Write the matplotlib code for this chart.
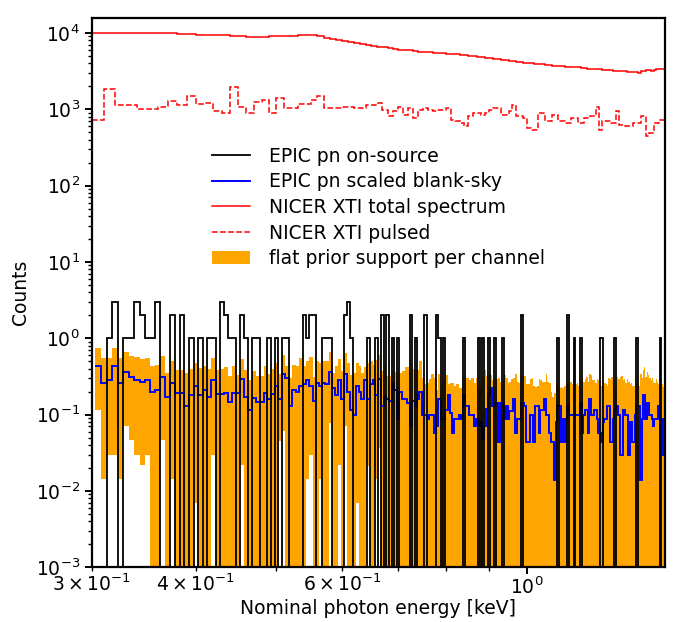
import matplotlib

matplotlib.use("Agg")
import matplotlib.pyplot as plt
import numpy as np

# EPIC pn channel grid (5 eV channels) and NICER XTI grid (10 eV channels), keV
PN_E0, PN_DE = 0.3025, 0.005
XTI_E0, XTI_DE = 0.30, 0.01

# EPIC pn on-source counts per channel
pn_counts = [
    0, 0, 1, 3, 0, 1, 1, 3, 2, 1,
    1, 3, 0, 0, 2, 0, 2, 0, 1, 0,
    1, 0, 1, 1, 0, 3, 2, 1, 1, 0,
    2, 1, 0, 1, 1, 0, 0, 1, 0, 1,
    0, 1, 1, 0, 0, 0, 0, 2, 1, 2,
    2, 0, 0, 1, 1, 1, 0, 0, 0, 0,
    2, 3, 1, 0, 0, 0, 0, 0, 1, 0,
    0, 1, 0, 2, 0, 2, 0, 1, 0, 1,
    0, 0, 0, 0, 2, 0, 1, 0, 0, 0,
    2, 0, 0, 0, 0, 2, 1, 0, 1, 0,
    0, 0, 0, 0, 0, 0, 0, 1, 0, 0,
    0, 0, 0, 0, 1, 0, 1, 0, 0, 1,
    0, 0, 1, 0, 0, 0, 1, 0, 0, 0,
    0, 0, 0, 0, 0, 0, 2, 0, 0, 0,
    0, 0, 0, 0, 0, 0, 0, 0, 0, 0,
    0, 0, 0, 0, 0, 0, 0, 1, 0, 0,
    0, 0, 0, 2, 0, 0, 0, 1, 0, 0,
    0, 1, 0, 0, 0, 0, 0, 0, 0, 0,
    0, 0, 0, 0, 1, 1, 0, 0, 0, 0,
    0, 0, 0, 0, 1, 0, 0, 0, 0, 0,
    0, 0, 0, 0, 0, 0, 0, 0, 0, 0,
    1, 0, 0, 0, 0, 0, 0, 0, 0, 0,
    0, 0, 0, 0, 0, 0, 0, 0, 1, 0,
    0, 0, 0,
]

# scaled blank-sky background per channel
pn_bkg = [
    0.43, 0.26, 0.28, 0.43, 0.26, 0.36, 0.31, 0.28, 0.27, 0.28,
    0.20, 0.21, 0.31, 0.17, 0.26, 0.19, 0.19, 0.13, 0.18, 0.24,
    0.18, 0.21, 0.17, 0.28, 0.185, 0.185, 0.19, 0.145, 0.19, 0.19,
    0.29, 0.17, 0.115, 0.165, 0.145, 0.145, 0.19, 0.16, 0.185, 0.24,
    0.158, 0.345, 0.30, 0.13, 0.21, 0.20, 0.236, 0.25, 0.28, 0.24,
    0.15, 0.26, 0.24, 0.26, 0.25, 0.36, 0.22, 0.18, 0.28, 0.16,
    0.34, 0.20, 0.115, 0.10, 0.24, 0.20, 0.16, 0.28, 0.16, 0.25,
    0.28, 0.18, 0.29, 0.13, 0.17, 0.158, 0.15, 0.26, 0.21, 0.087,
    0.20, 0.158, 0.158, 0.14, 0.071, 0.15, 0.13, 0.158, 0.20, 0.10,
    0.10, 0.087, 0.10, 0.10, 0.058, 0.071, 0.158, 0.087, 0.087, 0.116,
    0.18, 0.106, 0.058, 0.087, 0.087, 0.10, 0.087, 0.18, 0.13, 0.13,
    0.10, 0.10, 0.071, 0.087, 0.071, 0.08, 0.048, 0.07, 0.12, 0.18,
    0.22, 0.13, 0.14, 0.14, 0.044, 0.14, 0.14, 0.087, 0.13, 0.087,
    0.11, 0.11, 0.158, 0.058, 0.087, 0.087, 0.14, 0.14, 0.13, 0.044,
    0.044, 0.10, 0.10, 0.044, 0.13, 0.13, 0.058, 0.116, 0.116, 0.158,
    0.10, 0.10, 0.058, 0.044, 0.044, 0.014, 0.08, 0.13, 0.13, 0.044,
    0.087, 0.044, 0.087, 0.13, 0.10, 0.10, 0.10, 0.10, 0.10, 0.10,
    0.10, 0.14, 0.058, 0.10, 0.116, 0.116, 0.058, 0.158, 0.10, 0.10,
    0.116, 0.116, 0.087, 0.058, 0.058, 0.044, 0.08, 0.087, 0.087, 0.13,
    0.13, 0.044, 0.044, 0.087, 0.116, 0.13, 0.13, 0.10, 0.03, 0.03,
    0.116, 0.116, 0.10, 0.10, 0.03, 0.08, 0.08, 0.044, 0.044, 0.10,
    0.13, 0.13, 0.13, 0.014, 0.087, 0.18, 0.18, 0.087, 0.14, 0.14,
    0.10, 0.10, 0.087, 0.071, 0.087, 0.087, 0.087, 0.13, 0.087, 0.087,
    0.087, 0.03, 0.03,
]

# flat prior support per channel: lower / upper bound
prior_lo = [
    0.115, 0.0145, 0.03, 0.03, 0.0145, 0.071, 0.047, 0.03, 0.022, 0.03,
    0, 0, 0.046, 0, 0.0145, 0, 0, 0, 0, 0.007,
    0, 0, 0, 0.03, 0, 0, 0, 0, 0, 0,
    0.022, 0, 0, 0, 0, 0, 0, 0, 0, 0,
    0.045, 0.061, 0, 0, 0, 0, 0, 0, 0.0145, 0.03,
    0, 0, 0.0145, 0, 0, 0.078, 0, 0, 0.022, 0,
    0.07, 0, 0, 0, 0.007, 0, 0, 0, 0.021, 0,
    0, 0.0145, 0.037, 0, 0, 0, 0, 0, 0, 0,
] + [0] * 153

prior_hi = [
    0.75, 0.55, 0.55, 0.75, 0.55, 0.66, 0.59, 0.57, 0.54, 0.55,
    0.43, 0.45, 0.59, 0.35, 0.50, 0.39, 0.39, 0.35, 0.40, 0.48,
    0.41, 0.44, 0.40, 0.55, 0.39, 0.40, 0.42, 0.32, 0.44, 0.33,
    0.53, 0.39, 0.28, 0.37, 0.32, 0.32, 0.43, 0.34, 0.40, 0.48,
    0.34, 0.61, 0.44, 0.30, 0.45, 0.43, 0.55, 0.43, 0.50, 0.57,
    0.31, 0.50, 0.47, 0.50, 0.50, 0.67, 0.35, 0.43, 0.53, 0.37,
    0.64, 0.47, 0.33, 0.35, 0.47, 0.43, 0.35, 0.42, 0.47, 0.50,
    0.45, 0.52, 0.60, 0.37, 0.43, 0.32, 0.32, 0.37, 0.36, 0.34,
    0.35, 0.37, 0.42, 0.42, 0.45, 0.40, 0.39, 0.39, 0.50, 0.30,
    0.25, 0.26, 0.29, 0.34, 0.30, 0.21, 0.34, 0.24, 0.28, 0.33,
    0.25, 0.26, 0.26, 0.24, 0.25, 0.22, 0.22, 0.30, 0.30, 0.30,
    0.28, 0.30, 0.26, 0.30, 0.24, 0.24, 0.30, 0.38, 0.32, 0.33,
    0.33, 0.28, 0.30, 0.29, 0.30, 0.27, 0.27, 0.33, 0.30, 0.26,
    0.27, 0.29, 0.30, 0.34, 0.27, 0.26, 0.31, 0.32, 0.32, 0.25,
    0.25, 0.29, 0.30, 0.24, 0.23, 0.24, 0.29, 0.28, 0.27, 0.27,
    0.34, 0.27, 0.26, 0.20, 0.17, 0.19, 0.25, 0.24, 0.22, 0.23,
    0.22, 0.24, 0.25, 0.25, 0.26, 0.27, 0.25, 0.25, 0.25, 0.26,
    0.24, 0.28, 0.30, 0.27, 0.29, 0.31, 0.27, 0.34, 0.33, 0.28,
    0.28, 0.26, 0.29, 0.28, 0.25, 0.24, 0.24, 0.26, 0.25, 0.24,
    0.30, 0.29, 0.31, 0.26, 0.24, 0.23, 0.31, 0.29, 0.31, 0.32,
    0.28, 0.29, 0.26, 0.29, 0.27, 0.25, 0.26, 0.24, 0.24, 0.26,
    0.25, 0.27, 0.24, 0.34, 0.30, 0.38, 0.42, 0.31, 0.36, 0.33,
    0.30, 0.28, 0.30, 0.27, 0.26, 0.29, 0.27, 0.25, 0.26, 0.24,
    0.25, 0.23, 0.22,
]

# NICER XTI total and pulsed counts per 10 eV channel
xti_total = [
    9900, 9950, 9900, 9850, 10050, 10100, 10050, 9950, 9750, 9700,
    9500, 9450, 9400, 9350, 9150, 9000, 8950, 8950, 8900, 9000,
    9100, 9150, 9200, 9300, 9400, 9350, 9000, 8600, 8400, 8100,
    7800, 7600, 7300, 7100, 6950, 6800, 6650, 6500, 6300, 6150,
    6000, 5950, 5900, 5800, 5700, 5650, 5600, 5550, 5500, 5450,
    5380, 5300, 5250, 5150, 5100, 5050, 5000, 4900, 4850, 4750,
    4680, 4600, 4550, 4450, 4400, 4300, 4250, 4200, 4150, 4100,
    4050, 4000, 3950, 3900, 3880, 3850, 3800, 3750, 3700, 3680,
    3650, 3620, 3620, 3600, 3580, 3550, 3520, 3480, 3420, 3400,
    3380, 3350, 3330, 3300, 3280, 3250, 3230, 3210, 3200, 3180,
    3200, 3150, 3100, 3080, 3050, 3080, 3000, 3150, 3200, 3250,
    3280, 3220, 3300, 3350, 3380, 3400, 3420,
]

xti_pulsed = [
    726, 1833, 1143, 1143, 1000, 1000, 1064, 1300, 1143, 1497,
    1178, 1220, 950, 889, 1983, 1080, 889, 1250, 1328, 889,
    1397, 1030, 1030, 1178, 1178, 1328, 1497, 1033, 1033, 1033,
    1080, 1080, 1030, 1030, 1130, 1130, 1200, 985, 807, 937,
    1087, 848, 1035, 768, 985, 1035, 980, 937, 985, 985,
    1035, 730, 700, 661, 599, 807, 890, 890, 848, 900,
    985, 1035, 1035, 848, 848, 937, 1143, 807, 807, 768,
    571, 543, 543, 890, 890, 695, 695, 848, 848, 695,
    695, 661, 661, 768, 768, 661, 661, 768, 768, 807,
    807, 1087, 543, 695, 695, 695, 661, 661, 937, 629,
    629, 599, 599, 599, 661, 661, 661, 807, 807, 447,
    491, 491, 661, 661, 730, 730, 730,
]

pn_edges = PN_E0 + PN_DE * np.arange(len(pn_counts) + 1)
xti_edges = XTI_E0 + XTI_DE * np.arange(len(xti_total) + 1)

plt.rcParams["font.size"] = 13.5

fig, ax = plt.subplots(figsize=(6.85, 6.22), dpi=100)
fig.subplots_adjust(left=0.134, right=0.971, top=0.971, bottom=0.088)
ax.set_xscale("log")
ax.set_yscale("log")

# orange band: zero lower bounds run off the bottom of the log axis
lo = np.array(prior_lo, dtype=float)
lo = np.where(lo > 0, lo, 1e-6)
hi = np.array(prior_hi, dtype=float)
band = ax.fill_between(pn_edges, np.append(lo, lo[-1]), np.append(hi, hi[-1]),
                       step="post", color="orange", lw=0, zorder=1,
                       label="flat prior support per channel")

h_src = ax.stairs(pn_counts, pn_edges, baseline=None, color="black", lw=1.3,
                  zorder=3, label="EPIC pn on-source")
h_bkg = ax.stairs(pn_bkg, pn_edges, baseline=None, color="blue", lw=1.4,
                  zorder=2.5, label="EPIC pn scaled blank-sky")
h_tot = ax.stairs(xti_total, xti_edges, baseline=None, color="red", lw=1.1,
                  zorder=2, label="NICER XTI total spectrum")
h_pul = ax.stairs(xti_pulsed, xti_edges, baseline=None, color="red", lw=1.1,
                  ls="--", zorder=2, label="NICER XTI pulsed")

ax.set_xlim(0.3, 1.465)
ax.set_ylim(1e-3, 1.57e4)
ax.set_xlabel("Nominal photon energy [keV]", labelpad=1)
ax.set_ylabel("Counts")

for sp in ax.spines.values():
    sp.set_linewidth(1.6)
ax.tick_params(which="major", length=5, width=1.4)
ax.tick_params(which="minor", length=3, width=1.0)
ax.tick_params(axis="x", which="both", pad=1.5)

ax.legend(handles=[h_src, h_bkg, h_tot, h_pul, band], loc="center",
          bbox_to_anchor=(0.5, 0.655), frameon=False, handlelength=2.0,
          handletextpad=1.0, labelspacing=0.35)

fig.savefig("out.png", dpi=100)
